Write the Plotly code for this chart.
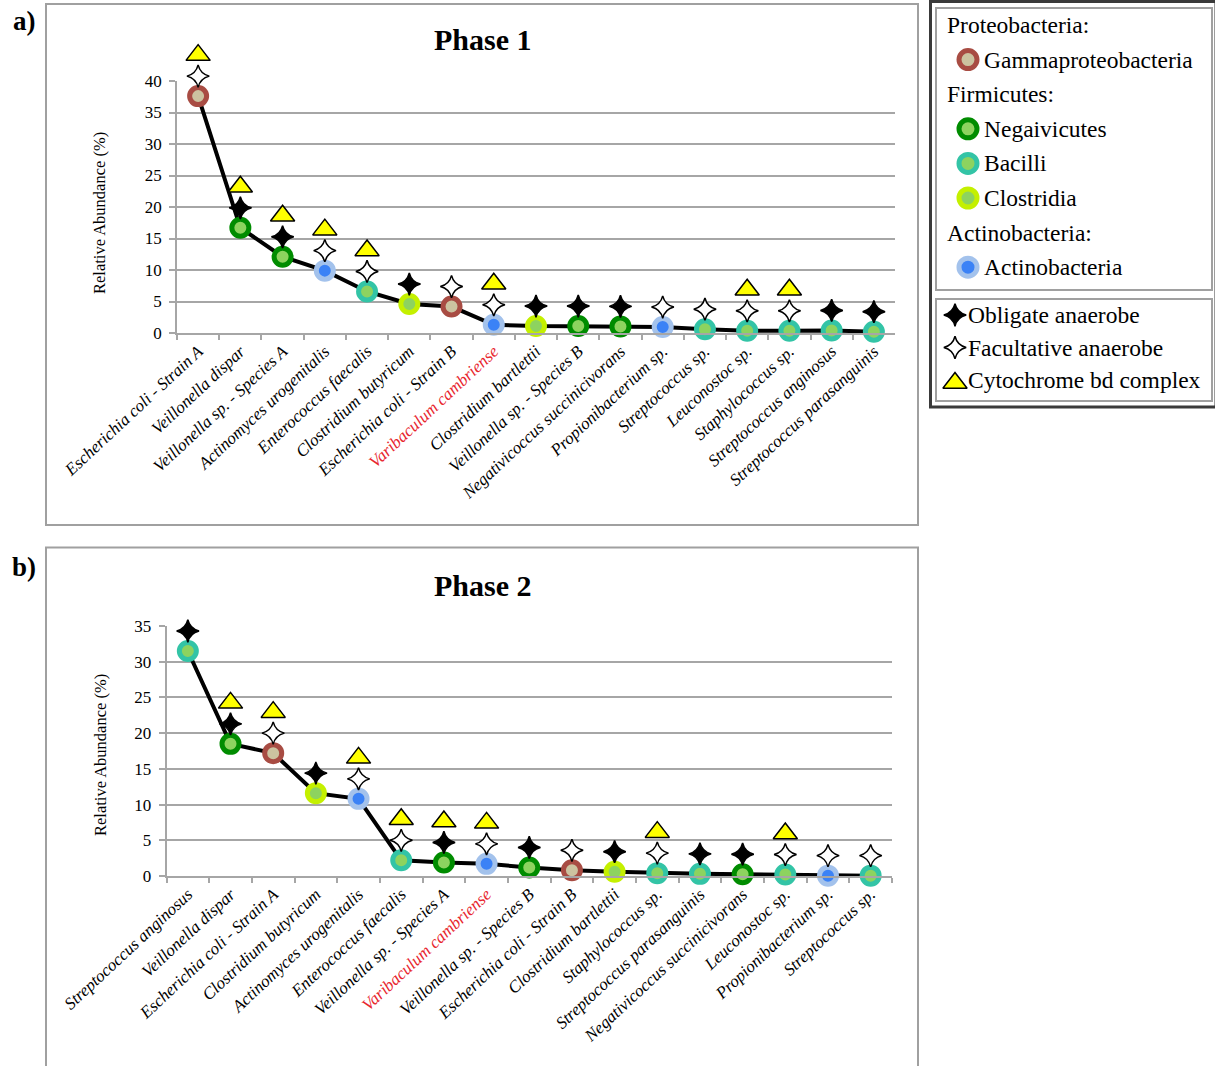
import plotly.graph_objects as go

# ---------------- data ----------------
phase1_species = [
    "Escherichia coli - Strain A", "Veillonella dispar", "Veillonella sp. - Species A",
    "Actinomyces urogenitalis", "Enterococcus faecalis", "Clostridium butyricum",
    "Escherichia coli - Strain B", "Varibaculum cambriense", "Clostridium bartlettii",
    "Veillonella sp. - Species B", "Negativicoccus succinicivorans", "Propionibacterium sp.",
    "Streptococcus sp.", "Leuconostoc sp.", "Staphylococcus sp.",
    "Streptococcus anginosus", "Streptococcus parasanguinis",
]
phase1_abundance = [37.6, 16.7, 12.1, 9.9, 6.6, 4.6, 4.2, 1.3, 1.1, 1.1, 1.05, 0.95,
                    0.6, 0.35, 0.35, 0.4, 0.2]
phase1_class = ["Gamma", "Negai", "Negai", "Actino", "Bacilli", "Clostridia", "Gamma",
                "Actino", "Clostridia", "Negai", "Negai", "Actino", "Bacilli", "Bacilli",
                "Bacilli", "Bacilli", "Bacilli"]
phase1_oxygen = ["F", "O", "O", "F", "F", "O", "F", "F", "O", "O", "O", "F", "F", "F",
                 "F", "O", "O"]
phase1_cytbd = [1, 1, 1, 1, 1, 0, 0, 1, 0, 0, 0, 0, 0, 1, 1, 0, 0]

phase2_species = [
    "Streptococcus anginosus", "Veillonella dispar", "Escherichia coli - Strain A",
    "Clostridium butyricum", "Actinomyces urogenitalis", "Enterococcus faecalis",
    "Veillonella sp. - Species A", "Varibaculum cambriense", "Veillonella sp. - Species B",
    "Escherichia coli - Strain B", "Clostridium bartlettii", "Staphylococcus sp.",
    "Streptococcus parasanguinis", "Negativicoccus succinicivorans", "Leuconostoc sp.",
    "Propionibacterium sp.", "Streptococcus sp.",
]
phase2_abundance = [31.5, 18.5, 17.2, 11.6, 10.8, 2.2, 1.9, 1.7, 1.2, 0.8, 0.6, 0.4,
                    0.3, 0.25, 0.2, 0.05, 0.05]
phase2_class = ["Bacilli", "Negai", "Gamma", "Clostridia", "Actino", "Bacilli", "Negai",
                "Actino", "Negai", "Gamma", "Clostridia", "Bacilli", "Bacilli", "Negai",
                "Bacilli", "Actino", "Bacilli"]
phase2_oxygen = ["O", "O", "F", "O", "F", "F", "O", "F", "O", "F", "O", "F", "O", "O",
                 "F", "F", "F"]
phase2_cytbd = [0, 1, 1, 0, 1, 1, 1, 1, 0, 0, 0, 1, 0, 0, 1, 0, 0]

y_ticks_phase1 = [0, 5, 10, 15, 20, 25, 30, 35, 40]
y_ticks_phase2 = [0, 5, 10, 15, 20, 25, 30, 35]
highlight_species = "Varibaculum cambriense"

legend_class_rows = [
    ("Proteobacteria:", None), ("Gammaproteobacteria", "Gamma"),
    ("Firmicutes:", None), ("Negaivicutes", "Negai"), ("Bacilli", "Bacilli"),
    ("Clostridia", "Clostridia"), ("Actinobacteria:", None), ("Actinobacteria", "Actino"),
]
legend_trait_rows = ["Obligate anaerobe", "Facultative anaerobe", "Cytochrome bd complex"]

# ---------------- styles ----------------
W, H = 1215, 1066
SERIF = "Liberation Serif, Times New Roman, serif"
GRID = "#A6A6A6"
CLASS_STYLE = {  # (fill, ring)
    "Gamma": ("#CCC3A0", "#A84C43"),
    "Negai": ("#8DD35F", "#008C00"),
    "Bacilli": ("#8DD35F", "#33C4A6"),
    "Clostridia": ("#8DD35F", "#C4F000"),
    "Actino": ("#3B82F6", "#A3C2EC"),
}
STAR_PX, TRI_PX = 20, 41
EXTRA_TOP = 70            # extra pixels above the plot for the overlay marker axis
LEG_BOX = (926, 0, W, 412)  # pixel box of the helper legend axis
STAR_SIZE, TRI_SIZE = 16, 21


def px(x):
    return x / W


def py(y):
    return 1 - y / H


def tick_text(name):
    if name == highlight_species:
        return "<span style='color:#E8262E'><i>%s</i></span>" % name
    return "<i>%s</i>" % name


fig = go.Figure()

phases = [
    dict(sp=phase1_species, ab=phase1_abundance, cl=phase1_class, ox=phase1_oxygen,
         bd=phase1_cytbd, xa="x", ya="y", yo="y4", xdom=(177, 895), ydom=(333, 81),
         yr=(0, 40), yt=y_ticks_phase1),
    dict(sp=phase2_species, ab=phase2_abundance, cl=phase2_class, ox=phase2_oxygen,
         bd=phase2_cytbd, xa="x2", ya="y2", yo="y5", xdom=(166.5, 892), ydom=(876, 626),
         yr=(0, 35), yt=y_ticks_phase2),
]

for i, p in enumerate(phases):
    h_px = p["ydom"][0] - p["ydom"][1]
    ppu = h_px / (p["yr"][1] - p["yr"][0])
    s_off, t_off = STAR_PX / ppu, TRI_PX / ppu
    fig.add_trace(go.Scatter(
        x=p["sp"], y=p["ab"], mode="lines+markers", xaxis=p["xa"], yaxis=p["ya"],
        line=dict(color="black", width=4), cliponaxis=False, showlegend=False,
        marker=dict(size=17, color=[CLASS_STYLE[c][0] for c in p["cl"]],
                    line=dict(color=[CLASS_STYLE[c][1] for c in p["cl"]], width=5))))
    for code, fill in (("O", "black"), ("F", "white")):
        xs = [s for s, o in zip(p["sp"], p["ox"]) if o == code]
        ys = [v + s_off for v, o in zip(p["ab"], p["ox"]) if o == code]
        fig.add_trace(go.Scatter(
            x=xs, y=ys, mode="markers", xaxis=p["xa"], yaxis=p["yo"], cliponaxis=False,
            showlegend=False,
            marker=dict(symbol="star-diamond", size=STAR_SIZE, color=fill,
                        line=dict(color="black", width=1.5))))
    xs = [s for s, b in zip(p["sp"], p["bd"]) if b]
    ys = [v + t_off for v, b in zip(p["ab"], p["bd"]) if b]
    fig.add_trace(go.Scatter(
        x=xs, y=ys, mode="markers", xaxis=p["xa"], yaxis=p["yo"], cliponaxis=False,
        showlegend=False,
        marker=dict(symbol="triangle-up", size=TRI_SIZE, color="#FFFF00",
                    line=dict(color="black", width=1.5))))

    sfx = "" if i == 0 else "2"
    ysfx = p["yo"][1:]
    fig.update_layout(**{
        "xaxis" + sfx: dict(
            domain=[px(p["xdom"][0]), px(p["xdom"][1])], anchor="y" + sfx,
            type="category", range=[-0.5, len(p["sp"]) - 0.5], automargin=False,
            tickmode="array", tickvals=p["sp"], ticktext=[tick_text(s) for s in p["sp"]],
            tickson="boundaries", ticks="outside", ticklen=5, tickcolor=GRID, tickwidth=1.5,
            showline=True, linecolor=GRID, linewidth=1.5, showgrid=False,
            tickangle=-43, tickfont=dict(family=SERIF, size=17, color="black"),
            fixedrange=True),
        "yaxis" + sfx: dict(
            domain=[py(p["ydom"][0]), py(p["ydom"][1])], anchor="x" + sfx,
            range=list(p["yr"]), tickmode="array", tickvals=p["yt"], automargin=False,
            showgrid=True, gridcolor=GRID, gridwidth=1.5, zeroline=False,
            showline=True, linecolor=GRID, linewidth=1.5,
            ticks="outside", ticklen=6, tickcolor=GRID, tickwidth=1.5,
            ticklabelstandoff=4,
            tickfont=dict(family=SERIF, size=17, color="black"), fixedrange=True),
        # same scale as the main axis, but taller, so markers above the top can show
        "yaxis" + ysfx: dict(
            domain=[py(p["ydom"][0]), py(p["ydom"][1] - EXTRA_TOP)], anchor="x" + sfx,
            range=[p["yr"][0], p["yr"][1] * (h_px + EXTRA_TOP) / h_px],
            visible=False, automargin=False, fixedrange=True),
    })

# ---------------- legend (helper pixel axis limited to the legend box) ----------------
fig.update_layout(
    xaxis3=dict(domain=[px(LEG_BOX[0]), px(LEG_BOX[2])], range=[LEG_BOX[0], LEG_BOX[2]],
                visible=False, fixedrange=True, anchor="y3", automargin=False),
    yaxis3=dict(domain=[py(LEG_BOX[3]), py(LEG_BOX[1])], range=[LEG_BOX[3], LEG_BOX[1]],
                visible=False, fixedrange=True, anchor="x3", automargin=False),
)

annotations = []
row_y0, row_dy = 25, 34.6
for k, (label, cls) in enumerate(legend_class_rows):
    yy = row_y0 + row_dy * k
    if cls is None:
        annotations.append(dict(x=px(945), y=py(yy), text=label, xanchor="left",
                                yanchor="middle"))
    else:
        annotations.append(dict(x=px(982), y=py(yy), text=label, xanchor="left",
                                yanchor="middle"))
        fig.add_trace(go.Scatter(
            x=[968], y=[yy], mode="markers", xaxis="x3", yaxis="y3", showlegend=False,
            cliponaxis=False, hoverinfo="skip",
            marker=dict(size=18, color=CLASS_STYLE[cls][0],
                        line=dict(color=CLASS_STYLE[cls][1], width=5))))

trait_y0, trait_dy = 315, 32.5
trait_styles = [
    dict(symbol="star-diamond", size=16, color="black", line=dict(color="black", width=1.5)),
    dict(symbol="star-diamond", size=16, color="white", line=dict(color="black", width=1.5)),
    dict(symbol="triangle-up", size=21, color="#FFFF00", line=dict(color="black", width=1.5)),
]
for k, label in enumerate(legend_trait_rows):
    yy = trait_y0 + trait_dy * k
    annotations.append(dict(x=px(966), y=py(yy), text=label, xanchor="left",
                            yanchor="middle"))
    fig.add_trace(go.Scatter(
        x=[955], y=[yy + (3 if k == 2 else 0)], mode="markers", xaxis="x3", yaxis="y3",
        showlegend=False, cliponaxis=False, hoverinfo="skip", marker=trait_styles[k]))

for a in annotations:
    a.update(xref="paper", yref="paper", showarrow=False,
             font=dict(family=SERIF, size=23.5, color="black"))

# titles / panel labels / axis titles
extra = [
    dict(x=px(483), y=py(40), text="<b>Phase 1</b>", font=dict(family=SERIF, size=30)),
    dict(x=px(483), y=py(585), text="<b>Phase 2</b>", font=dict(family=SERIF, size=30)),
    dict(x=px(24), y=py(21), text="<b>a)</b>", font=dict(family=SERIF, size=27)),
    dict(x=px(24), y=py(567), text="<b>b)</b>", font=dict(family=SERIF, size=27)),
    dict(x=px(100), y=py(213), text="Relative Abundance (%)", textangle=-90,
         font=dict(family=SERIF, size=16.5)),
    dict(x=px(100), y=py(755), text="Relative Abundance (%)", textangle=-90,
         font=dict(family=SERIF, size=16.5)),
]
for a in extra:
    a.update(xref="paper", yref="paper", showarrow=False, xanchor="center",
             yanchor="middle")
    a["font"]["color"] = "black"
annotations += extra


def rect(x0, y0, x1, y1, color, width):
    return dict(type="rect", xref="paper", yref="paper", x0=px(x0), x1=px(x1),
                y0=py(y0), y1=py(y1), line=dict(color=color, width=width),
                fillcolor="rgba(0,0,0,0)", layer="below")


shapes = [
    rect(46, 4, 918, 525, "#A0A0A0", 2),
    rect(46, 547.5, 918, 1080, "#A0A0A0", 2),
    rect(930.5, 1.5, 1216, 407, "#3A3A3A", 3),
    rect(936, 8, 1212, 290, "#A0A0A0", 2),
    rect(936, 299, 1212, 401, "#A0A0A0", 2),
]

fig.update_layout(
    width=W, height=H, margin=dict(l=0, r=0, t=0, b=0, pad=0), autosize=False,
    paper_bgcolor="white", plot_bgcolor="rgba(0,0,0,0)", showlegend=False,
    annotations=annotations, shapes=shapes,
    font=dict(family=SERIF, color="black"),
)

fig.write_html("out.html", config={"displayModeBar": False},
               post_script="document.body.style.margin='0';document.body.style.overflow='hidden';")
